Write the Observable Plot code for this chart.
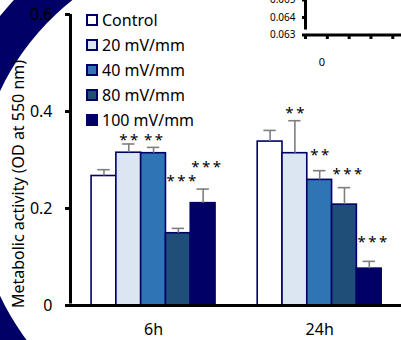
<!DOCTYPE html>
<html>
<head>
<meta charset="utf-8">
<script src="https://cdn.jsdelivr.net/npm/d3@7"></script>
<script src="https://cdn.jsdelivr.net/npm/@observablehq/plot@0.6"></script>
<style>
  html, body { margin: 0; padding: 0; background: #fff; overflow: hidden; }
  #wrap { position: relative; width: 401px; height: 340px; overflow: hidden; font-family: "Noto Sans", sans-serif; }
  #ring { position: absolute; left: -62.6px; top: -101.3px; width: 625.2px; height: 589.6px; box-sizing: border-box;
          border: 40px solid #000066; border-radius: 50%; z-index: 0; }
  #main, #inset { position: absolute; top: 0; z-index: 1; }
  #main { left: 0; }
  #inset { left: 250px; }
  #legend { position: absolute; left: 86px; top: 7px; z-index: 2; }
  .row { display: flex; align-items: center; height: 25px; font-size: 16px; color: #000; }
  .sw { width: 12px; height: 12px; box-sizing: border-box; border: 2px solid #000066; margin-right: 4px; }
</style>
</head>
<body>
<div id="wrap">
  <div id="ring"></div>
  <div id="main"></div>
  <div id="inset"></div>
  <div id="legend"></div>
</div>
<script>
// ---- data ----
const groups = ["6h", "24h"];
const series = ["Control", "20 mV/mm", "40 mV/mm", "80 mV/mm", "100 mV/mm"];
const colors = ["#ffffff", "#dce6f2", "#2e75b6", "#1f4e79", "#000066"];
const means6h  = [0.267, 0.315, 0.314, 0.149, 0.211];
const errs6h   = [0.013, 0.018, 0.012, 0.010, 0.029];
const means24h = [0.338, 0.314, 0.259, 0.208, 0.076];
const errs24h  = [0.023, 0.067, 0.019, 0.035, 0.015];
const stars6h  = ["", "**", "**", "***", "***"];
const stars24h = ["", "**", "**", "***", "***"];
const starAt6h  = [null, 0.350, 0.350, 0.264, 0.293];
const starAt24h = [null, 0.404, 0.318, 0.280, 0.138];
const yTicks = [0, 0.2, 0.4, 0.6];
const yLabel = "Metabolic activity (OD at 550 nm)";
const insetYTicks = [0.063, 0.064, 0.065];
const insetXTicks = [0, 1, 2, 3, 4];
const insetXLabels = ["0"];

// ---- build table ----
const groupStep = 6.7;   // slots per group (5 bars + gap)
const means = [means6h, means24h], errs = [errs6h, errs24h];
const stars = [stars6h, stars24h], starAt = [starAt6h, starAt24h];
const rows = [];
groups.forEach((g, gi) => series.forEach((s, si) => {
  const x1 = gi * groupStep + si;
  rows.push({group: g, series: s, color: colors[si], x1, x2: x1 + 1, xc: x1 + 0.5,
             mean: means[gi][si], top: means[gi][si] + errs[gi][si],
             star: stars[gi][si].split("").join("\u2009"), starY: starAt[gi][si], n: stars[gi][si].length});
}));
const groupCenters = groups.map((g, gi) => gi * groupStep + series.length / 2);
const xMin = -0.85, xMax = 12.5;
const navy = "#000066", gray = "#7f7f7f";

const main = Plot.plot({
  width: 401, height: 340,
  marginLeft: 70, marginRight: 0, marginTop: 14, marginBottom: 35,
  style: {fontFamily: "Noto Sans", fontSize: "16px", background: "transparent", color: "#000"},
  x: {domain: [xMin, xMax]},
  y: {domain: [0, 0.6]},
  color: {type: "identity"},
  marks: [
    Plot.rect(rows, {x1: "x1", x2: "x2", y1: 0, y2: "mean", fill: "color", stroke: navy, strokeWidth: 1.6}),
    Plot.ruleX(rows, {x: "xc", y1: "mean", y2: "top", stroke: gray, strokeWidth: 1.6}),
    Plot.ruleY(rows, {y: "top", x1: d => d.xc - 0.25, x2: d => d.xc + 0.25, stroke: gray, strokeWidth: 1.6}),
    Plot.text(rows.filter(d => d.n === 2), {x: "xc", y: "starY", text: "star", fontSize: 15, dy: 4}),
    Plot.text(rows.filter(d => d.n === 3), {x: "xc", y: "starY", text: "star", fontSize: 15, dy: 4, dx: 3}),
    Plot.ruleY([0], {stroke: "#000", strokeWidth: 3, insetLeft: -2}),
    Plot.ruleX([xMin], {y1: 0, y2: 0.6, stroke: "#000", strokeWidth: 3, insetTop: -1.5}),
    Plot.axisY({ticks: yTicks, tickFormat: d => String(d), tickSize: 5, tickPadding: 13, strokeWidth: 3, fontSize: 16, label: null}),
    Plot.axisX({ticks: groupCenters, tickFormat: d => groups[groupCenters.indexOf(d)], tickSize: 0, tickPadding: 18, fontSize: 16, label: null}),
    Plot.text([yLabel], {frameAnchor: "left", textAnchor: "middle", lineAnchor: "middle", rotate: -90, dx: -52, dy: 24, fontSize: 16})
  ]
});
document.getElementById("main").appendChild(main);

const inset = Plot.plot({
  width: 151, height: 70,
  marginLeft: 55, marginRight: 0, marginTop: 0, marginBottom: 35,
  style: {fontFamily: "Noto Sans", fontSize: "10px", background: "transparent", color: "#000"},
  x: {domain: [0, 4.4]},
  y: {domain: [0.063, 0.065], range: [34.5, -0.5]},
  marks: [
    Plot.ruleX([0], {y1: 0.063, y2: 0.065, stroke: "#000", strokeWidth: 3, insetTop: -5}),
    Plot.ruleY([0.063], {stroke: "#000", strokeWidth: 3}),
    Plot.axisY({ticks: insetYTicks, tickFormat: d3.format(".3f"), tickSize: 3, tickPadding: 7, strokeWidth: 3, fontSize: 10, label: null}),
    Plot.axisX({ticks: insetXTicks, tickFormat: () => "", tickSize: 4, strokeWidth: 3, label: null}),
    Plot.text(insetXLabels, {x: (d, i) => i + 0.75, y: 0.063, dy: 27, fontSize: 11})
  ]
});
document.getElementById("inset").appendChild(inset);

// ---- legend ----
const legend = document.getElementById("legend");
series.forEach((s, i) => {
  const row = document.createElement("div");
  row.className = "row";
  const sw = document.createElement("span");
  sw.className = "sw";
  sw.style.background = colors[i];
  const t = document.createElement("span");
  t.textContent = s;
  row.appendChild(sw); row.appendChild(t);
  legend.appendChild(row);
});
</script>
</body>
</html>
